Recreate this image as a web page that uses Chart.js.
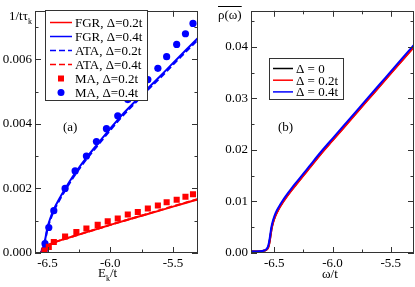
<!DOCTYPE html>
<html>
<head>
<meta charset="utf-8">
<script src="https://cdn.jsdelivr.net/npm/chart.js@4.4.0/dist/chart.umd.min.js"></script>
<style>
html, body { margin: 0; padding: 0; background: #fff; }
#wrap { position: relative; width: 415px; height: 287px; }
.panel { position: absolute; top: 0; width: 205px; height: 287px; }
#pa { left: 0; }
#pb { left: 210px; }
</style>
</head>
<body>
<div id="wrap">
  <div class="panel" id="pa"><canvas id="chartA"></canvas></div>
  <div class="panel" id="pb"><canvas id="chartB"></canvas></div>
</div>
<script>
// ---------- panel (a): scattering rate 1/t tau_k vs E_k/t ----------
var fgr02X = [-6.555, -6.54, -6.52, -6.5, -6.45, -6.4, -6.3, -6.2, -6.1, -6.0, -5.8, -5.6, -5.4, -5.3];
var fgr02Y = [0, 0.0001, 0.00017, 0.00023, 0.00032, 0.00039, 0.00051, 0.00063, 0.00075, 0.00087, 0.0011, 0.00132, 0.00155, 0.00166];

var fgr04X = [-6.555, -6.54, -6.52, -6.5, -6.48, -6.45, -6.4, -6.35, -6.3, -6.25, -6.2, -6.1, -6.0, -5.9, -5.8, -5.7, -5.6, -5.5, -5.4, -5.3];
var fgr04Y = [0, 0.0001, 0.0004, 0.0008, 0.00105, 0.00135, 0.00172, 0.00205, 0.00236, 0.00264, 0.0029, 0.00338, 0.00385, 0.0043, 0.0047, 0.0051, 0.00548, 0.00588, 0.00627, 0.00666];

var ata02X = [-6.555, -6.54, -6.52, -6.5, -6.48, -6.45, -6.4, -6.35, -6.3, -6.25, -6.2, -6.1, -6.0, -5.9, -5.8, -5.7, -5.6, -5.5, -5.4, -5.3];
var ata02Y = [0, 0.00008, 0.00036, 0.00075, 0.001, 0.0013, 0.00167, 0.002, 0.00231, 0.00259, 0.00285, 0.00333, 0.0038, 0.00425, 0.00465, 0.00505, 0.00543, 0.00583, 0.00622, 0.00661];

var ata04X = [-6.555, -6.54, -6.52, -6.5, -6.45, -6.4, -6.3, -6.2, -6.1, -6.0, -5.8, -5.6, -5.4, -5.3];
var ata04Y = [0, 0.0001, 0.00017, 0.00023, 0.00032, 0.00039, 0.00051, 0.00063, 0.00075, 0.00087, 0.0011, 0.00133, 0.00156, 0.00167];

var ma02X = [-6.525, -6.49, -6.45, -6.36, -6.27, -6.19, -6.10, -6.02, -5.94, -5.86, -5.78, -5.70, -5.62, -5.55, -5.47, -5.40, -5.34];
var ma02Y = [0.00008, 0.00019, 0.00034, 0.00051, 0.00065, 0.00076, 0.00087, 0.00098, 0.00107, 0.00119, 0.00127, 0.00138, 0.00147, 0.00157, 0.00165, 0.00174, 0.00182];

var ma04X = [-6.525, -6.52, -6.49, -6.45, -6.36, -6.28, -6.19, -6.11, -6.03, -5.94, -5.86, -5.78, -5.70, -5.62, -5.55, -5.47, -5.40, -5.34];
var ma04Y = [0.00009, 0.00029, 0.00079, 0.00131, 0.002, 0.00254, 0.003, 0.00345, 0.00385, 0.00425, 0.00475, 0.00508, 0.00537, 0.00572, 0.00608, 0.00646, 0.00679, 0.00711];

var xTicksA = [-6.5, -6.0, -5.5];
var xMinorA = [-6.25, -5.75];
var yTicksA = [0, 0.002, 0.004, 0.006];
var yMinorA = [0.001, 0.003, 0.005, 0.007];

// ---------- panel (b): density of states rho(omega) ----------
var dosX = [-6.7, -6.65, -6.6, -6.57, -6.555, -6.545, -6.535, -6.525, -6.51, -6.49, -6.46, -6.43, -6.4, -6.35, -6.3, -6.25, -6.2, -6.1, -6.0, -5.9, -5.8, -5.7, -5.6, -5.5, -5.4, -5.3];
var dos0Y = [0.0003, 0.0003, 0.0004, 0.0006, 0.001, 0.0017, 0.003, 0.0045, 0.006, 0.0073, 0.0087, 0.0098, 0.0108, 0.0123, 0.0137, 0.0151, 0.0165, 0.0193, 0.0219, 0.0245, 0.0271, 0.0297, 0.0323, 0.0349, 0.0375, 0.0401];
var dos02Y = [0.0003, 0.0003, 0.0004, 0.0006, 0.0009, 0.0016, 0.0029, 0.0044, 0.0059, 0.0072, 0.0086, 0.0097, 0.0107, 0.0122, 0.0136, 0.015, 0.0164, 0.0192, 0.0218, 0.0244, 0.027, 0.0296, 0.0322, 0.0348, 0.0374, 0.04];
var dos04Y = [0.0003, 0.0003, 0.0004, 0.0007, 0.0012, 0.0021, 0.0035, 0.005, 0.0064, 0.0077, 0.009, 0.0101, 0.0111, 0.0126, 0.014, 0.0154, 0.0168, 0.0196, 0.0222, 0.0248, 0.0274, 0.03, 0.0326, 0.0352, 0.0378, 0.0404];

var xTicksB = [-6.5, -6.0, -5.5];
var xMinorB = [-6.25, -5.75];
var yTicksB = [0, 0.01, 0.02, 0.03, 0.04];
var yMinorB = [0.005, 0.015, 0.025, 0.035, 0.045];

var SERIF = '"Liberation Serif", "Times New Roman", serif';

function pts(xs, ys) {
    return xs.map(function (x, i) { return { x: x, y: ys[i] }; });
}

// frame + inward ticks on all four sides, like xmgrace
var framePlugin = {
    id: 'frame',
    afterDatasetsDraw: function (chart, args, o) {
        var ctx = chart.ctx, a = chart.chartArea, sx = chart.scales.x, sy = chart.scales.y;
        ctx.save();
        ctx.strokeStyle = '#333';
        ctx.lineWidth = 1;
        ctx.strokeRect(Math.round(a.left) + 0.5, Math.round(a.top) + 0.5,
            Math.round(a.right - a.left) - 1, Math.round(a.bottom - a.top) - 1);
        ctx.beginPath();
        function xt(vals, len) {
            vals.forEach(function (v) {
                var p = Math.round(sx.getPixelForValue(v)) + 0.5;
                ctx.moveTo(p, a.bottom); ctx.lineTo(p, a.bottom - len);
                ctx.moveTo(p, a.top); ctx.lineTo(p, a.top + len);
            });
        }
        function yt(vals, len) {
            vals.forEach(function (v) {
                var p = Math.round(sy.getPixelForValue(v)) + 0.5;
                ctx.moveTo(a.left, p); ctx.lineTo(a.left + len, p);
                ctx.moveTo(a.right, p); ctx.lineTo(a.right - len, p);
            });
        }
        xt(o.xMajor, 6); xt(o.xMinor, 3.5);
        yt(o.yMajor, 6); yt(o.yMinor, 3.5);
        ctx.stroke();
        ctx.restore();
    }
};

// boxed legend drawn inside the plot (covers the marks below it)
var boxLegendPlugin = {
    id: 'boxLegend',
    afterDatasetsDraw: function (chart, args, o) {
        var ctx = chart.ctx;
        ctx.save();
        ctx.fillStyle = '#fff';
        ctx.fillRect(o.x, o.y, o.w, o.h);
        ctx.strokeStyle = '#333';
        ctx.lineWidth = 1;
        ctx.strokeRect(o.x + 0.5, o.y + 0.5, o.w - 1, o.h - 1);
        ctx.font = '13px ' + SERIF;
        ctx.textBaseline = 'middle';
        o.items.forEach(function (idx, i) {
            var ds = chart.data.datasets[idx];
            var cy = o.row0 + i * o.rowStep;
            ctx.strokeStyle = ds.borderColor;
            ctx.fillStyle = ds.borderColor;
            if (ds.showLine === false) {
                var mx = o.sx + o.sw / 2;
                ctx.beginPath();
                if (ds.pointStyle === 'rect') {
                    ctx.fillRect(mx - 3, cy - 3, 6, 6);
                } else {
                    ctx.arc(mx, cy, 3.5, 0, Math.PI * 2);
                    ctx.fill();
                }
            } else {
                ctx.lineWidth = 1.5;
                ctx.setLineDash(ds.borderDash || []);
                ctx.beginPath();
                ctx.moveTo(o.sx, cy); ctx.lineTo(o.sx + o.sw, cy);
                ctx.stroke();
                ctx.setLineDash([]);
            }
            ctx.fillStyle = '#000';
            ctx.fillText(ds.label, o.tx, cy + 1);
        });
        ctx.restore();
    }
};

// free text: axis titles with sub/overlines, panel tags
var textPlugin = {
    id: 'freeText',
    afterDraw: function (chart, args, o) {
        var ctx = chart.ctx;
        ctx.save();
        ctx.fillStyle = '#000';
        ctx.textBaseline = 'alphabetic';
        o.items.forEach(function (it) {
            var x = it.x;
            it.parts.forEach(function (p) {
                ctx.font = (p.sub ? 8 : 13) + 'px ' + SERIF;
                var yy = it.y + (p.sub ? 4 : 0);
                ctx.fillText(p.t, x, yy);
                var w = ctx.measureText(p.t).width;
                if (it.over) {
                    ctx.fillRect(x, it.y - 13, w, 1);
                }
                x += w;
            });
        });
        ctx.restore();
    }
};

function axisOpts(min, max, ticks, dec, isX, size) {
    return {
        type: 'linear',
        min: min,
        max: max,
        grid: { display: false, drawTicks: false },
        border: { display: false },
        afterBuildTicks: function (s) { s.ticks = ticks.map(function (v) { return { value: v }; }); },
        afterFit: function (s) { if (isX) { s.height = size; } else { s.width = size; } },
        ticks: {
            autoSkip: false,
            maxRotation: 0,
            padding: 3,
            color: '#000',
            font: { family: SERIF, size: 13 },
            callback: function (v) { return Number(v).toFixed(dec); }
        }
    };
}

var lineDs = function (label, xs, ys, color, dash, order) {
    return {
        label: label, data: pts(xs, ys), borderColor: color, backgroundColor: color,
        borderWidth: 2, borderDash: dash || [], pointRadius: 0,
        cubicInterpolationMode: 'monotone', order: order
    };
};
var markDs = function (label, xs, ys, color, style, r) {
    return {
        label: label, data: pts(xs, ys), borderColor: color, backgroundColor: color,
        showLine: false, pointStyle: style, pointRadius: r, pointBorderWidth: 0, order: 0
    };
};

new Chart(document.getElementById('chartA'), {
    type: 'line',
    data: {
        datasets: [
            lineDs('FGR, \u0394=0.2t', fgr02X, fgr02Y, '#ff0000', [], 2),
            lineDs('FGR, \u0394=0.4t', fgr04X, fgr04Y, '#0000ff', [], 2),
            lineDs('ATA, \u0394=0.2t', ata02X, ata02Y, '#0000ff', [6, 3], 1),
            lineDs('ATA, \u0394=0.4t', ata04X, ata04Y, '#ff0000', [6, 3], 1),
            markDs('MA, \u0394=0.2t', ma02X, ma02Y, '#ff0000', 'rect', 4.3),
            markDs('MA, \u0394=0.4t', ma04X, ma04Y, '#0000ff', 'circle', 3.6)
        ]
    },
    options: {
        responsive: true,
        maintainAspectRatio: false,
        animation: false,
        layout: { padding: { top: 1, right: 7, left: 0, bottom: 0 } },
        scales: {
            x: axisOpts(-6.6, -5.3, xTicksA, 1, true, 34),
            y: axisOpts(0, 0.0075, yTicksA, 3, false, 35)
        },
        plugins: {
            legend: { display: false },
            tooltip: { enabled: false },
            frame: { xMajor: xTicksA, xMinor: xMinorA, yMajor: yTicksA, yMinor: yMinorA },
            boxLegend: { x: 45, y: 10, w: 103, h: 91, sx: 50, sw: 22, tx: 75, row0: 22.5, rowStep: 14, items: [0, 1, 2, 3, 4, 5] },
            freeText: {
                items: [
                    { x: 9, y: 20, parts: [{ t: '1/t\u03c4' }, { t: 'k', sub: true }] },
                    { x: 98, y: 277, parts: [{ t: 'E' }, { t: 'k', sub: true }, { t: '/t' }] },
                    { x: 63, y: 131, parts: [{ t: '(a)' }] }
                ]
            }
        }
    },
    plugins: [framePlugin, boxLegendPlugin, textPlugin]
});

new Chart(document.getElementById('chartB'), {
    type: 'line',
    data: {
        datasets: [
            lineDs('\u0394 = 0', dosX, dos0Y, '#000000', [], 2),
            lineDs('\u0394 = 0.2t', dosX, dos02Y, '#ff0000', [], 1),
            lineDs('\u0394 = 0.4t', dosX, dos04Y, '#0000ff', [], 0)
        ]
    },
    options: {
        responsive: true,
        maintainAspectRatio: false,
        animation: false,
        layout: { padding: { top: 1, right: 1, left: 0, bottom: 0 } },
        scales: {
            x: axisOpts(-6.7, -5.3, xTicksB, 1, true, 34),
            y: axisOpts(0, 0.047, yTicksB, 2, false, 41)
        },
        plugins: {
            legend: { display: false },
            tooltip: { enabled: false },
            frame: { xMajor: xTicksB, xMinor: xMinorB, yMajor: yTicksB, yMinor: yMinorB },
            boxLegend: { x: 59, y: 58, w: 75, h: 42, sx: 63, sw: 20, tx: 86, row0: 68.5, rowStep: 11.7, items: [0, 1, 2] },
            freeText: {
                items: [
                    { x: 8, y: 19, over: true, parts: [{ t: '\u03c1(\u03c9)' }] },
                    { x: 112, y: 278, parts: [{ t: '\u03c9/t' }] },
                    { x: 68, y: 131, parts: [{ t: '(b)' }] }
                ]
            }
        }
    },
    plugins: [framePlugin, boxLegendPlugin, textPlugin]
});
</script>
</body>
</html>
